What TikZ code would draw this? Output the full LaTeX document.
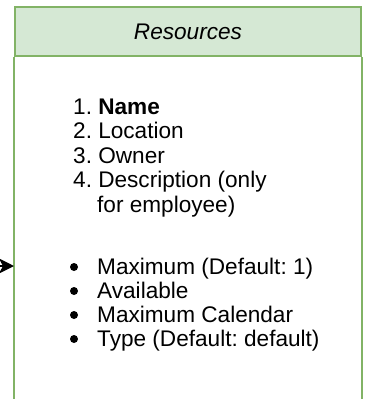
\documentclass[tikz,border=0pt]{standalone}
\usepackage{fontspec}
\setmainfont{Liberation Sans}
\usetikzlibrary{arrows.meta}
\definecolor{lanefill}{HTML}{D5E8D4}
\definecolor{lanedraw}{HTML}{82B366}
\frenchspacing
\begin{document}
\begin{tikzpicture}[x=1pt,y=-1pt,
	every node/.style={font=\fontsize{22.6}{24}\selectfont,inner sep=0pt},
	head/.style={draw=lanedraw,fill=lanefill,line width=2pt,minimum width=346pt,minimum height=49.5pt,font=\fontsize{22.6}{24}\selectfont\itshape},
	lane/.style={draw=lanedraw,line width=2pt},
	item/.style={anchor=base west},
	dot/.style={circle,fill=black,minimum size=8pt}]
	\useasboundingbox (0,0) rectangle (365,399);
	\node[head] (title) at (188,31.5) {Resources};
	\coordinate (bottom) at (0,399);
	\draw[lane] (title.south west) -- (title.south west |- bottom);
	\draw[lane] (title.south east) -- (title.south east |- bottom);
	\node[item] (name) at (73,114) {1. \textbf{Name}};
	\node[item] (location) at (73,138.5) {2. Location};
	\node[item] (owner) at (73,163) {3. Owner};
	\node[item] (descr) at (73,187.5) {4. Description (only};
	\node[item] (descr2) at (97,212) {for employee)};
	\node[dot] (b1) at (74,267) {};
	\node[item] (maximum) at (97,274) {Maximum (Default: 1)};
	\node[dot] (b2) at (74,291) {};
	\node[item] (available) at (97,298) {Available};
	\node[dot] (b3) at (74,315) {};
	\node[item] (calendar) at (97,322) {Maximum Calendar};
	\node[dot] (b4) at (74,339) {};
	\node[item] (type) at (97,346) {Type (Default: default)};
	\coordinate (src) at (0,266);
	\draw[-{Stealth[length=15pt,width=15pt,inset=4pt]},line width=2pt] (src) -- (title.west |- src);
\end{tikzpicture}
\end{document}
